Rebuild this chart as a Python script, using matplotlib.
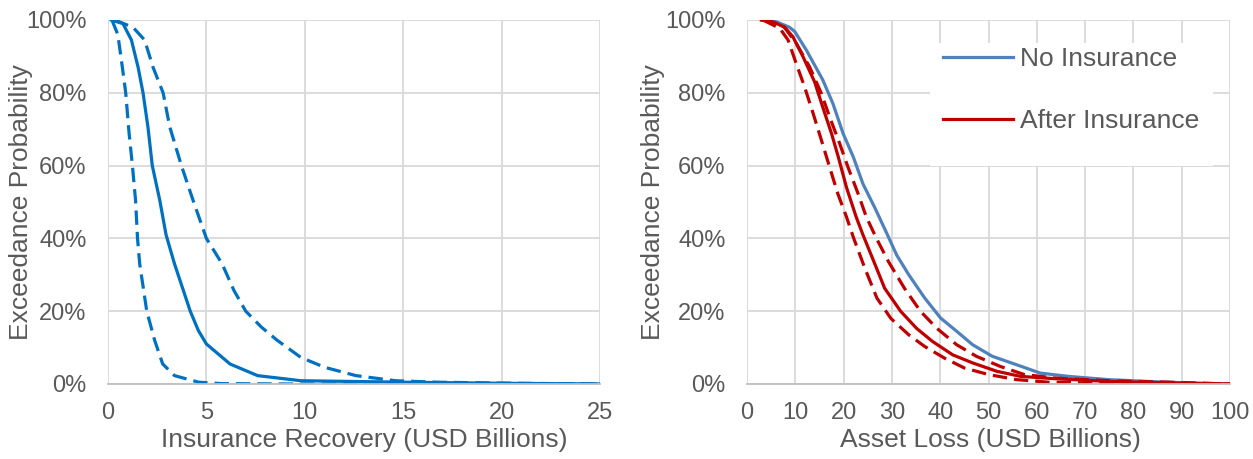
import matplotlib
matplotlib.use("Agg")
import matplotlib.pyplot as plt
from matplotlib.ticker import FuncFormatter
from matplotlib.patches import Rectangle

plt.rcParams['font.family'] = ['Liberation Sans', 'DejaVu Sans']

# ---- left panel: insurance recovery (USD billions) vs exceedance probability (%)
rec_mid_x = [0.17, 0.76, 1.19, 1.53, 1.78, 2.03, 2.25, 2.63, 2.95, 3.38, 4.18, 4.59, 5.0, 6.2, 7.6, 9.8, 15, 20, 25]
rec_mid_y = [100, 99, 94.5, 87, 80, 70.6, 60, 50.5, 41, 33, 20, 14.7, 11, 5.5, 2.3, 0.9, 0.5, 0.2, 0]
rec_lo_x = [0.2, 0.5, 0.73, 0.9, 1.07, 1.24, 1.4, 1.5, 1.61, 1.97, 2.37, 2.78, 3.38, 4.6, 5.8, 9.3, 25]
rec_lo_y = [100, 96, 87, 80, 69, 60, 50.5, 40, 33, 20, 12, 5.5, 2.3, 0.5, 0.1, 0, 0]
rec_hi_x = [0.34, 1.27, 1.86, 2.29, 2.8, 3.14, 3.73, 4.32, 5.0, 5.8, 6.4, 7.0, 7.8, 8.6, 9.8, 11.0, 12.6, 14.6, 16.7, 20.7, 25]
rec_hi_y = [100, 98, 94.5, 87, 80, 70.6, 60, 50.5, 40, 33, 25.7, 20, 15.6, 12, 7.3, 4.6, 2.3, 0.9, 0.5, 0.2, 0]

# ---- right panel: asset loss (USD billions) vs exceedance probability (%)
no_ins_x = [3.0, 6.1, 8.8, 9.9, 12.3, 15.7, 17.8, 19.9, 22.0, 24.0, 26.4, 28.9, 31.0, 33.5, 36.8, 40.1, 43.4, 46.7, 50.8, 55.8, 60.7, 66.5, 74.8, 83, 91.3, 100]
no_ins_y = [100, 99.5, 98, 96.8, 91.7, 83.5, 77, 68.8, 62.4, 55, 48.6, 41.5, 35.4, 30, 23.6, 18.1, 14.5, 10.8, 7.6, 5.3, 3.0, 2.1, 1.2, 0.7, 0.3, 0]
after_x = [3.0, 5.4, 7.8, 9.5, 11.6, 14.0, 15.7, 17.5, 18.9, 20.6, 22.6, 24.0, 26.0, 28.5, 31.8, 35.1, 38.4, 42.6, 46.7, 51.7, 56.6, 63.2, 74.8, 87.2, 100]
after_y = [100, 99.5, 98, 95.4, 89.9, 83, 76, 68.8, 62.4, 54, 45.9, 41, 34.5, 26.3, 20, 15.3, 11.7, 8, 5.8, 3.5, 2.1, 1.5, 0.7, 0.3, 0]
after_lo_x = [3.3, 6.8, 8.5, 10.2, 11.9, 13.7, 15.4, 17.1, 18.8, 20.6, 22.1, 24.4, 26.9, 29.8, 33.5, 36.8, 40.9, 45.0, 50, 55.8, 62.4, 74.8, 100]
after_lo_y = [100, 97.7, 94.5, 88, 81.7, 74.3, 67, 59.6, 52.3, 45.9, 40, 31.8, 23.6, 18, 13.5, 10.3, 7.1, 4.4, 2.6, 1.2, 0.5, 0.2, 0]
after_hi_x = [3.3, 7.4, 10.2, 13, 15.4, 17.1, 19.2, 20.9, 23, 24.7, 26.8, 29.3, 32.6, 35.9, 39.3, 43.4, 47.5, 52.5, 57.4, 64, 74.8, 87.2, 100]
after_hi_y = [100, 98.6, 93.6, 87, 79.8, 73.4, 66, 59.6, 52.3, 45.9, 40, 33.6, 26.3, 20, 15.3, 10.8, 7.6, 4.8, 2.6, 1.6, 0.9, 0.5, 0]

txt = '#595959'
grid_c = '#D9D9D9'
axis_c = '#BFBFBF'
blue_dark = '#0070C0'
blue_light = '#4F81BD'
red = '#C00000'
lw = 2.3
dash = (4.5, 2.2)

fig = plt.figure(figsize=(12.53, 4.59), dpi=100)
ax1 = fig.add_axes([108 / 1253, 1 - 384 / 459, 492 / 1253, 364 / 459])
ax2 = fig.add_axes([747 / 1253, 1 - 384 / 459, 483 / 1253, 364 / 459])


def style(ax, xmax, xstep, xlabel, ylab_x, xlab_x):
    ax.set_xlim(0, xmax)
    ax.set_ylim(0, 100)
    ax.set_xticks(range(0, xmax + 1, xstep))
    ax.set_yticks(range(0, 101, 20))
    ax.yaxis.set_major_formatter(FuncFormatter(lambda v, p: '%d%%' % v))
    ax.grid(True, color=grid_c, linewidth=1.3)
    ax.set_axisbelow(True)
    for s in ['top', 'right', 'left']:
        ax.spines[s].set_visible(False)
    ax.spines['bottom'].set_color(axis_c)
    ax.spines['bottom'].set_linewidth(1.3)
    ax.tick_params(length=0, labelsize=17, colors=txt)
    ax.tick_params(axis='y', pad=15.5)
    ax.tick_params(axis='x', pad=13)
    ax.set_xlabel(xlabel, fontsize=19, color=txt)
    ax.set_ylabel('Exceedance Probability', fontsize=19, color=txt)
    ax.yaxis.set_label_coords(ylab_x, 0.5)
    ax.xaxis.set_label_coords(xlab_x, -0.122)


ax1.plot(rec_lo_x, rec_lo_y, color=blue_dark, lw=lw, dashes=dash)
ax1.plot(rec_hi_x, rec_hi_y, color=blue_dark, lw=lw, dashes=dash)
ax1.plot(rec_mid_x, rec_mid_y, color=blue_dark, lw=lw)
style(ax1, 25, 5, 'Insurance Recovery (USD Billions)', -0.152, 0.52)

ax2.plot(no_ins_x, no_ins_y, color=blue_light, lw=lw, label='No Insurance')
ax2.plot(after_lo_x, after_lo_y, color=red, lw=lw, dashes=dash)
ax2.plot(after_hi_x, after_hi_y, color=red, lw=lw, dashes=dash)
ax2.plot(after_x, after_y, color=red, lw=lw, label='After Insurance')
style(ax2, 100, 10, 'Asset Loss (USD Billions)', -0.17, 0.503)

# white legend area hiding the gridlines, as in the original
ax2.add_patch(Rectangle((0.379, 0.599), 0.586, 0.338, transform=ax2.transAxes,
                        facecolor='white', edgecolor='none', zorder=1.5))
leg = ax2.legend(loc='center left', bbox_to_anchor=(0.406, 0.808), fontsize=19,
                 frameon=False, handlelength=2.65, handletextpad=0.25,
                 labelspacing=1.45, borderpad=0, borderaxespad=0)
for t in leg.get_texts():
    t.set_color(txt)

fig.savefig('out.png', dpi=100)
